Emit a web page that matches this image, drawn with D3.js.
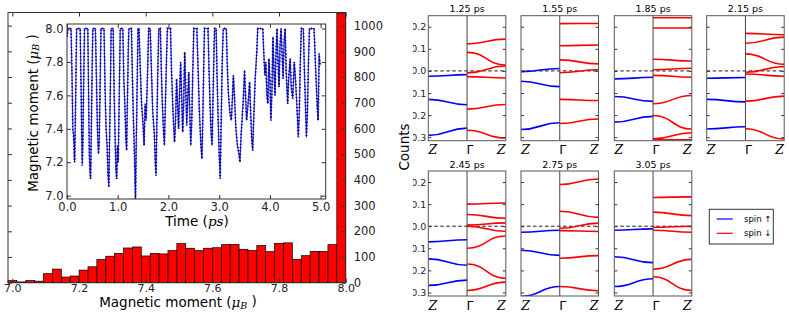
<!DOCTYPE html>
<html lang="en">
<head>
<meta charset="UTF-8">
<title>Magnetic moment histogram and band snapshots</title>
<style>
  body { margin: 0; background: #fff; }
  svg { display: block; font-family: "DejaVu Sans", sans-serif; }
  .math { font-family: "DejaVu Serif", serif; font-style: italic; }
</style>
</head>
<body>
<div id="chart"></div>
<script src="https://d3js.org/d3.v7.min.js"></script>
<script>

// histogram of the magnetic moment, 38 equal bins over histRange
const histRange = [6.987, 8.0];
const histCounts = [8, 3, 8, 6, 35, 53, 22, 26, 49, 62, 90, 103, 114, 135, 139, 104, 114, 112, 125,
  152, 134, 125, 134, 136, 148, 149, 130, 125, 145, 121, 153, 155, 91, 105, 122, 122, 148, 1049];
const histXTicks = [7.0, 7.2, 7.4, 7.6, 7.8, 8.0];
const histYTicks = [0, 100, 200, 300, 400, 500, 600, 700, 800, 900, 1000];

// inset: moment vs time [t (ps), moment]
const momentSeries = [
  [0.00, 7.95], [0.02, 8.00], [0.08, 8.00], [0.10, 7.70], [0.115, 7.40], [0.13, 7.36], [0.15, 7.20],
  [0.165, 7.45], [0.18, 7.80], [0.19, 8.00], [0.26, 8.00],
  [0.28, 7.60], [0.29, 7.35], [0.30, 7.18], [0.31, 7.28], [0.33, 7.70], [0.345, 8.00], [0.41, 8.00],
  [0.43, 7.50], [0.44, 7.25], [0.455, 7.14], [0.465, 7.10], [0.48, 7.40], [0.50, 7.85], [0.51, 8.00], [0.56, 8.00],
  [0.58, 7.70], [0.60, 7.40], [0.62, 7.25], [0.635, 7.32], [0.65, 7.60], [0.67, 8.00], [0.73, 8.00],
  [0.75, 7.65], [0.77, 7.40], [0.79, 7.30], [0.81, 7.12], [0.825, 7.05], [0.84, 7.35], [0.86, 7.75], [0.87, 8.00], [0.91, 8.00],
  [0.93, 7.60], [0.95, 7.33], [0.965, 7.15], [0.98, 7.10], [0.995, 7.30], [1.01, 7.20], [1.03, 7.60], [1.05, 8.00], [1.10, 8.00],
  [1.12, 7.70], [1.14, 7.55], [1.16, 7.35], [1.175, 7.27], [1.19, 7.55], [1.21, 7.90], [1.22, 8.00], [1.27, 8.00],
  [1.29, 7.70], [1.31, 7.45], [1.33, 7.25], [1.35, 6.98], [1.365, 7.30], [1.38, 7.60], [1.40, 8.00], [1.42, 8.00],
  [1.44, 7.80], [1.47, 7.55], [1.50, 7.42], [1.52, 7.30], [1.54, 7.55], [1.56, 7.45], [1.59, 7.75], [1.61, 8.00], [1.64, 8.00],
  [1.66, 7.80], [1.69, 7.50], [1.72, 7.38], [1.74, 7.20], [1.755, 7.12], [1.77, 7.40], [1.79, 7.75], [1.81, 8.00], [1.84, 8.00],
  [1.86, 7.75], [1.88, 7.55], [1.90, 7.40], [1.92, 7.30], [1.94, 7.55], [1.96, 7.80], [1.98, 8.00], [2.04, 8.00],
  [2.06, 7.75], [2.09, 7.50], [2.12, 7.32], [2.14, 7.45], [2.16, 7.70], [2.18, 7.55], [2.20, 7.40], [2.22, 7.62],
  [2.24, 7.80], [2.26, 7.60], [2.28, 7.38], [2.30, 7.55], [2.32, 7.86], [2.34, 7.65], [2.36, 7.42], [2.38, 7.58],
  [2.40, 7.74], [2.42, 7.50], [2.44, 7.30], [2.46, 7.45], [2.48, 7.75], [2.50, 8.00], [2.56, 8.00],
  [2.58, 7.80], [2.61, 7.50], [2.64, 7.30], [2.66, 7.22], [2.68, 7.50], [2.70, 7.85], [2.71, 8.00], [2.78, 8.00],
  [2.80, 7.75], [2.82, 7.55], [2.84, 7.38], [2.86, 7.30], [2.88, 7.60], [2.90, 7.90], [2.91, 8.00], [2.94, 8.00],
  [2.96, 7.70], [2.98, 7.45], [3.00, 7.25], [3.02, 7.10], [3.04, 7.45], [3.06, 7.80], [3.08, 8.00], [3.14, 8.00],
  [3.16, 7.78], [3.18, 7.62], [3.21, 7.50], [3.24, 7.45], [3.26, 7.58], [3.28, 7.72], [3.30, 7.60], [3.33, 7.40],
  [3.36, 7.30], [3.39, 7.25], [3.41, 7.20], [3.43, 7.35], [3.46, 7.50], [3.48, 7.60], [3.50, 7.75], [3.52, 7.60],
  [3.54, 7.45], [3.57, 7.55], [3.60, 7.68], [3.62, 7.50], [3.64, 7.35], [3.66, 7.27], [3.68, 7.45], [3.71, 7.70],
  [3.74, 7.85], [3.76, 8.00], [3.86, 8.00],
  [3.88, 7.85], [3.90, 7.72], [3.92, 7.80], [3.94, 7.60], [3.96, 7.55], [3.98, 7.82], [4.00, 7.70], [4.02, 7.45],
  [4.04, 7.62], [4.06, 7.95], [4.08, 7.75], [4.10, 7.60], [4.12, 7.85], [4.14, 8.00], [4.16, 7.80], [4.18, 7.65],
  [4.20, 7.90], [4.22, 8.00], [4.24, 7.85], [4.26, 7.70], [4.28, 7.92], [4.30, 8.00], [4.32, 7.75], [4.35, 7.55],
  [4.37, 7.70], [4.40, 7.82], [4.42, 7.65], [4.45, 7.58], [4.48, 7.80], [4.50, 7.72], [4.53, 7.55], [4.56, 7.35],
  [4.58, 7.50], [4.60, 7.80], [4.62, 8.00], [4.66, 8.00], [4.68, 7.75], [4.70, 7.55], [4.72, 7.35], [4.74, 7.50],
  [4.76, 7.80], [4.78, 8.00], [4.87, 8.00], [4.89, 7.85], [4.91, 7.70], [4.93, 7.55], [4.95, 7.45], [4.96, 7.62],
  [4.97, 7.85], [4.99, 7.78]
];
const insetXTicks = [0, 1, 2, 3, 4, 5];
const insetYTicks = [7.0, 7.2, 7.4, 7.6, 7.8, 8.0];

// band snapshots
const snapshots = ["1.25 ps", "1.55 ps", "1.85 ps", "2.15 ps", "2.45 ps", "2.75 ps", "3.05 ps"];
const bandTicks = [-0.3, -0.2, -0.1, 0.0, 0.1, 0.2];
// spin up bands, [E at Z, E at Gamma]
const spinUp = [
  [[-0.024, -0.017], [-0.129, -0.153], [-0.292, -0.259]],
  [[-0.003, 0.011], [-0.047, -0.071], [-0.265, -0.235]],
  [[-0.036, -0.029], [-0.116, -0.138], [-0.232, -0.206]],
  [[-0.033, -0.030], [-0.129, -0.140], [-0.263, -0.253]],
  [[-0.071, -0.061], [-0.148, -0.177], [-0.268, -0.244]],
  [[-0.027, -0.018], [-0.109, -0.132], [-0.318, -0.273]],
  [[-0.018, -0.012], [-0.138, -0.165], [-0.273, -0.238]]
];
// spin down bands, [E at Gamma, E at Z]
const spinDown = [
  [[0.122, 0.144], [0.084, 0.027], [-0.009, 0.022], [-0.026, -0.032], [-0.173, -0.152], [-0.269, -0.304]],
  [[0.214, 0.215], [0.114, 0.117], [0.050, 0.032], [-0.008, 0.005], [-0.129, -0.134], [-0.238, -0.218]],
  [[0.241, 0.241], [0.194, 0.194], [0.053, 0.045], [0.005, 0.012], [-0.020, -0.029], [-0.149, -0.111],
   [-0.202, -0.263], [-0.307, -0.280], [-0.312, -0.312]],
  [[0.170, 0.164], [0.125, 0.153], [0.077, 0.030], [-0.006, 0.020], [-0.014, -0.024], [-0.137, -0.114],
   [-0.262, -0.308]],
  [[0.100, 0.105], [0.053, 0.036], [0.005, 0.015], [0.000, -0.023], [-0.100, -0.044], [-0.171, -0.236],
   [-0.291, -0.253]],
  [[0.189, 0.214], [0.068, 0.040], [-0.009, 0.014], [-0.020, -0.024], [-0.145, -0.133], [-0.273, -0.292]],
  [[0.130, 0.133], [0.064, 0.048], [-0.005, 0.000], [-0.018, -0.027], [-0.195, -0.150], [-0.229, -0.291]]
];
const kLabels = ["Z", "\u0393", "Z"];
const legendItems = [["spin \u2191", "#0000ff"], ["spin \u2193", "#ff0000"]];

const width = 789, height = 314;
const svg = d3.select("#chart").append("svg")
  .attr("width", width)
  .attr("height", height);

const frameColor = "#333";

function cleanAxis(g) {
  g.select(".domain").remove();
  g.selectAll(".tick line").attr("stroke", frameColor);
  g.selectAll("text").attr("fill", "#222").attr("font-family", "DejaVu Sans");
}

// ---------- histogram ----------
const hx = d3.scaleLinear().domain(histRange).range([8, 345.7]);
const hy = d3.scaleLinear().domain([0, 1051]).range([282.7, 12.5]);
const binW = (histRange[1] - histRange[0]) / histCounts.length;

svg.append("g").selectAll("rect")
  .data(histCounts)
  .join("rect")
  .attr("x", (d, i) => hx(histRange[0] + i * binW))
  .attr("width", (d, i) => hx(histRange[0] + (i + 1) * binW) - hx(histRange[0] + i * binW))
  .attr("y", d => hy(Math.min(d, 1051)))
  .attr("height", d => hy(0) - hy(Math.min(d, 1051)))
  .attr("fill", "#ff0000")
  .attr("stroke", "#000")
  .attr("stroke-width", 0.7);

svg.append("g")
  .attr("transform", "translate(0,282.7)")
  .style("font-size", "11px")
  .call(d3.axisBottom(hx).tickValues(histXTicks).tickSizeInner(-4).tickSizeOuter(0)
    .tickPadding(1.8).tickFormat(d3.format(".1f")))
  .call(cleanAxis);

svg.append("g")
  .attr("transform", "translate(0,12.5)")
  .call(d3.axisTop(hx).tickValues(histXTicks).tickSizeInner(-4).tickSizeOuter(0).tickFormat(""))
  .call(cleanAxis);

svg.append("g")
  .attr("transform", "translate(345.7,0)")
  .style("font-size", "11.5px")
  .call(d3.axisRight(hy).tickValues(histYTicks).tickSizeInner(-4).tickSizeOuter(0).tickPadding(8)
    .tickFormat(d3.format("d")))
  .call(cleanAxis);

svg.append("g")
  .attr("transform", "translate(8,0)")
  .call(d3.axisLeft(hy).tickValues(histYTicks).tickSizeInner(-4).tickSizeOuter(0).tickFormat(""))
  .call(cleanAxis);

svg.append("rect")
  .attr("x", 8).attr("y", 12.5)
  .attr("width", 345.7 - 8).attr("height", 282.7 - 12.5)
  .attr("fill", "none").attr("stroke", frameColor).attr("stroke-width", 1);

function muLabel(sel) {
  sel.append("tspan").text("Magnetic moment (");
  sel.append("tspan").attr("class", "math").text("\u03bc");
  sel.append("tspan").attr("class", "math").attr("font-size", "0.7em").attr("dy", "0.2em").text("B");
  sel.append("tspan").attr("dy", "-0.2em").text(" )");
}

svg.append("text")
  .attr("x", 178).attr("y", 307.2)
  .attr("text-anchor", "middle")
  .style("font-size", "13.5px")
  .call(muLabel);

svg.append("text")
  .attr("transform", "translate(408.5,147) rotate(-90)")
  .attr("text-anchor", "middle")
  .style("font-size", "13.5px")
  .text("Counts");

// ---------- inset ----------
const ix = d3.scaleLinear().domain([0, 5.1]).range([67, 325.7]);
const iy = d3.scaleLinear().domain([6.98, 8.027]).range([199, 24]);

svg.append("rect")
  .attr("x", 67).attr("y", 24)
  .attr("width", 325.7 - 67).attr("height", 199 - 24)
  .attr("fill", "#fff");

svg.append("clipPath").attr("id", "inset-clip")
  .append("rect")
  .attr("x", 67).attr("y", 24)
  .attr("width", 325.7 - 67).attr("height", 199 - 24);

const momentLine = d3.line().x(d => ix(d[0])).y(d => iy(d[1]));

const insetG = svg.append("g").attr("clip-path", "url(#inset-clip)");
insetG.append("path")
  .datum(momentSeries)
  .attr("d", momentLine)
  .attr("fill", "none")
  .attr("stroke", "#2a2aff")
  .attr("stroke-width", 1.1);
// dense point markers along the trace
insetG.append("path")
  .datum(momentSeries)
  .attr("d", momentLine)
  .attr("fill", "none")
  .attr("stroke", "#000070")
  .attr("stroke-width", 1.8)
  .attr("stroke-dasharray", "1.1 2.2");

svg.append("g")
  .attr("transform", "translate(0,199)")
  .style("font-size", "11.5px")
  .call(d3.axisBottom(ix).tickValues(insetXTicks).tickSizeInner(-4).tickSizeOuter(0).tickPadding(3.5))
  .call(cleanAxis);

svg.append("g")
  .attr("transform", "translate(0,24)")
  .call(d3.axisTop(ix).tickValues(insetXTicks).tickSizeInner(-4).tickSizeOuter(0).tickFormat(""))
  .call(cleanAxis);

svg.append("g")
  .attr("transform", "translate(67,0)")
  .style("font-size", "11.5px")
  .call(d3.axisLeft(iy).tickValues(insetYTicks).tickSizeInner(-4).tickSizeOuter(0).tickPadding(3.5)
    .tickFormat(d3.format(".1f")))
  .call(cleanAxis);

svg.append("g")
  .attr("transform", "translate(325.7,0)")
  .call(d3.axisRight(iy).tickValues(insetYTicks).tickSizeInner(-4).tickSizeOuter(0).tickFormat(""))
  .call(cleanAxis);

svg.append("rect")
  .attr("x", 67).attr("y", 24)
  .attr("width", 325.7 - 67).attr("height", 199 - 24)
  .attr("fill", "none").attr("stroke", frameColor).attr("stroke-width", 1);

svg.append("text")
  .attr("transform", "translate(37.5,113) rotate(-90)")
  .attr("text-anchor", "middle")
  .style("font-size", "13.5px")
  .call(muLabel);

const timeLabel = svg.append("text")
  .attr("x", 197).attr("y", 225.5)
  .attr("text-anchor", "middle")
  .style("font-size", "13.5px");
timeLabel.append("tspan").text("Time (");
timeLabel.append("tspan").attr("class", "math").text("ps");
timeLabel.append("tspan").text(")");

// ---------- band snapshots ----------
const colX = [428.3, 521, 614.3, 706.7];
const rowY = [15.7, 171];
const panelW = 77.5, panelH = 125;
const eDomain = [-0.316, 0.25];

const link = d3.linkHorizontal().x(d => d[0]).y(d => d[1]);

snapshots.forEach((title, p) => {
  const left = colX[p % 4];
  const top = rowY[Math.floor(p / 4)];
  const kx = d3.scaleLinear().domain([0, 2]).range([left, left + panelW]);
  const ey = d3.scaleLinear().domain(eDomain).range([top + panelH, top]);

  const g = svg.append("g");
  const clipId = "panel-clip-" + p;
  g.append("clipPath").attr("id", clipId)
    .append("rect")
    .attr("x", left).attr("y", top)
    .attr("width", panelW).attr("height", panelH);

  const bands = g.append("g").attr("clip-path", `url(#${clipId})`);

  bands.append("line")
    .attr("x1", kx(0)).attr("x2", kx(2))
    .attr("y1", ey(0)).attr("y2", ey(0))
    .attr("stroke", "#000")
    .attr("stroke-width", 0.9)
    .attr("stroke-dasharray", "3.5 2.5");

  bands.selectAll("path.up")
    .data(spinUp[p])
    .join("path")
    .attr("class", "up")
    .attr("d", d => link({ source: [kx(0), ey(d[0])], target: [kx(1), ey(d[1])] }))
    .attr("fill", "none")
    .attr("stroke", "#0000ff")
    .attr("stroke-width", 1.6);

  bands.selectAll("path.down")
    .data(spinDown[p])
    .join("path")
    .attr("class", "down")
    .attr("d", d => link({ source: [kx(1), ey(d[0])], target: [kx(2), ey(d[1])] }))
    .attr("fill", "none")
    .attr("stroke", "#ff0000")
    .attr("stroke-width", 1.6);

  // Gamma divider
  g.append("line")
    .attr("x1", kx(1)).attr("x2", kx(1))
    .attr("y1", top).attr("y2", top + panelH)
    .attr("stroke", "#444")
    .attr("stroke-width", 1);

  const leftAxis = d3.axisLeft(ey).tickValues(bandTicks).tickSizeInner(-3).tickSizeOuter(0)
    .tickPadding(2).tickFormat(d3.format(".1f"));
  if (p % 4 !== 0) leftAxis.tickFormat("");
  // the first column's labels are cut off at the left edge of this half of the figure
  const labWrap = g.append("g");
  if (p % 4 === 0) {
    const labClip = "lab-clip-" + p;
    g.append("clipPath").attr("id", labClip)
      .append("rect")
      .attr("x", 413).attr("y", top - 8)
      .attr("width", 30).attr("height", panelH + 16);
    labWrap.attr("clip-path", `url(#${labClip})`);
  }
  labWrap.append("g")
    .attr("transform", `translate(${left},0)`)
    .style("font-size", "9.5px")
    .call(leftAxis)
    .call(cleanAxis);

  g.append("g")
    .attr("transform", `translate(${left + panelW},0)`)
    .call(d3.axisRight(ey).tickValues(bandTicks).tickSizeInner(-3).tickSizeOuter(0).tickFormat(""))
    .call(cleanAxis);

  g.append("rect")
    .attr("x", left).attr("y", top)
    .attr("width", panelW).attr("height", panelH)
    .attr("fill", "none").attr("stroke", "#555").attr("stroke-width", 1);

  g.append("text")
    .attr("x", left + panelW / 2).attr("y", top - 3.5)
    .attr("text-anchor", "middle")
    .style("font-size", "9.5px")
    .text(title);

  const labelX = [kx(0) + 4.5, kx(1) + 3, kx(2) - 4.5];
  g.selectAll("text.k")
    .data(kLabels)
    .join("text")
    .attr("class", d => d === "Z" ? "k math" : "k")
    .attr("x", (d, i) => labelX[i])
    .attr("y", top + panelH + 13.5)
    .attr("text-anchor", "middle")
    .style("font-size", "12.5px")
    .text(d => d);
});

// legend
const legend = svg.append("g").attr("transform", "translate(709.3,209.3)");
legend.append("rect")
  .attr("width", 64).attr("height", 34.7)
  .attr("fill", "#fff").attr("stroke", "#333").attr("stroke-width", 1);
legendItems.forEach(([label, color], i) => {
  const y = 9.7 + i * 14.3;
  legend.append("line")
    .attr("x1", 7.4).attr("x2", 23.4)
    .attr("y1", y).attr("y2", y)
    .attr("stroke", color).attr("stroke-width", 1.2);
  legend.append("text")
    .attr("x", 34.7).attr("y", y + 3)
    .style("font-size", "8.5px")
    .text(label);
});

</script>
</body>
</html>
